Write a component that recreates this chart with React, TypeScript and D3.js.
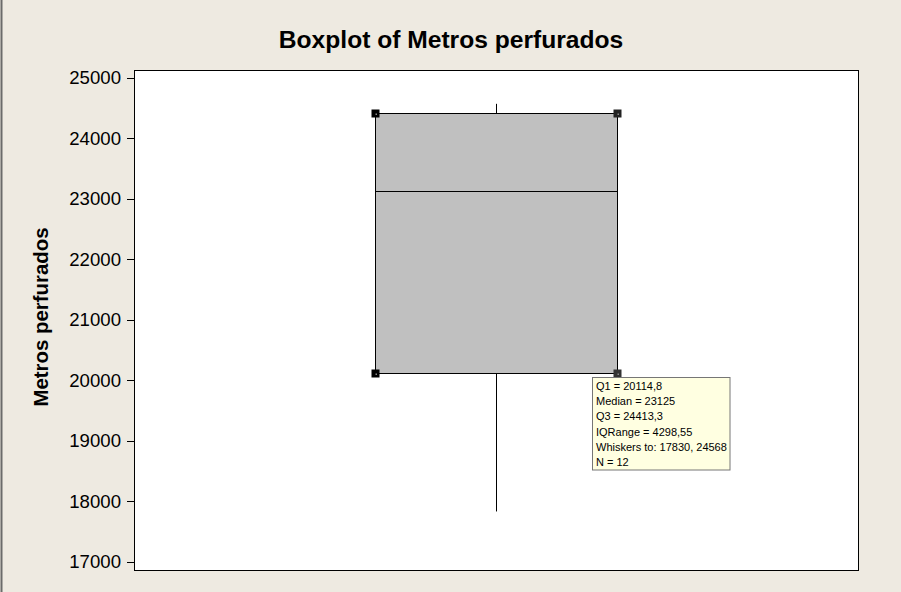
import React from "react";
import * as d3 from "d3";

const categories = ["Metros perfurados"];
const q1Values = [20114.8];
const medianValues = [23125];
const q3Values = [24413.3];
const whiskerLow = [17830];
const whiskerHigh = [24568];
const yTicks = [17000, 18000, 19000, 20000, 21000, 22000, 23000, 24000, 25000];
const tooltipLines = [
  "Q1 = 20114,8",
  "Median = 23125",
  "Q3 = 24413,3",
  "IQRange = 4298,55",
  "Whiskers to: 17830, 24568",
  "N = 12",
];

const W = 901;
const H = 592;
const frame = { left: 134, right: 859, top: 70, bottom: 571 };
const FONT = "'Liberation Sans', Arial, sans-serif";

export default function App() {
  const y = d3.scaleLinear().domain([16846, 25127]).range([frame.bottom, frame.top]);
  const x = d3.scalePoint<string>().domain(categories).range([frame.left, frame.right]).padding(0.5);
  const boxW = 242;
  const handle = 8;

  return (
    <svg
      width={W}
      height={H}
      style={{ position: "absolute", left: 0, top: 0, display: "block" }}
      fontFamily={FONT}
    >
      <rect x={0} y={0} width={W} height={H} fill="#EEEAE1" />
      <line x1={1.5} x2={1.5} y1={0} y2={H} stroke="#6b6b6b" strokeWidth={2} />

      <text x={451} y={47.5} textAnchor="middle" fontWeight="bold" fontSize={24.6} fill="#000">
        Boxplot of Metros perfurados
      </text>

      <rect
        x={frame.left + 0.5}
        y={frame.top + 0.5}
        width={frame.right - frame.left - 1}
        height={frame.bottom - frame.top - 1}
        fill="#fff"
        stroke="#000"
        strokeWidth={1}
      />

      {yTicks.map((t) => (
        <g key={t}>
          <line x1={127} x2={frame.left} y1={Math.round(y(t)) + 0.5} y2={Math.round(y(t)) + 0.5} stroke="#000" />
          <text x={121} y={y(t)} dy="0.36em" textAnchor="end" fontSize={18.6} fill="#000">
            {t}
          </text>
        </g>
      ))}

      <text
        transform={`translate(48,317) rotate(-90)`}
        textAnchor="middle"
        fontWeight="bold"
        fontSize={20.4}
        fill="#000"
      >
        {categories[0]}
      </text>

      {categories.map((c, i) => {
        const cx = x(c)!;
        const x0 = cx - boxW / 2;
        const x1 = cx + boxW / 2;
        const yq1 = Math.round(y(q1Values[i])) + 0.5;
        const yq3 = Math.round(y(q3Values[i])) + 0.5;
        const ym = Math.round(y(medianValues[i])) + 0.5;
        const corners: [number, number, string][] = [
          [x0, yq3, "#000"],
          [x1, yq3, "#222"],
          [x0, yq1, "#000"],
          [x1, yq1, "#333"],
        ];
        return (
          <g key={c}>
            <line x1={cx} x2={cx} y1={y(whiskerHigh[i])} y2={yq3} stroke="#000" />
            <line x1={cx} x2={cx} y1={yq1} y2={y(whiskerLow[i])} stroke="#000" />
            <rect x={x0} y={yq3} width={x1 - x0} height={yq1 - yq3} fill="#C0C0C0" stroke="#000" />
            <line x1={x0} x2={x1} y1={ym} y2={ym} stroke="#000" />
            {corners.map(([hx, hy, col], k) => (
              <g key={k}>
                <rect x={hx - handle / 2} y={hy - handle / 2} width={handle} height={handle} fill={col} />
                <rect x={hx} y={hy} width={1.5} height={1.5} fill="#8a8a8a" />
              </g>
            ))}
          </g>
        );
      })}

      <g>
        <rect x={592.5} y={377.5} width={137.5} height={92.5} fill="#FFFFE1" stroke="#767676" />
        {tooltipLines.map((s, k) => (
          <text key={k} x={596} y={390 + k * 15.2} fontSize={11} fill="#000">
            {s}
          </text>
        ))}
      </g>
    </svg>
  );
}
